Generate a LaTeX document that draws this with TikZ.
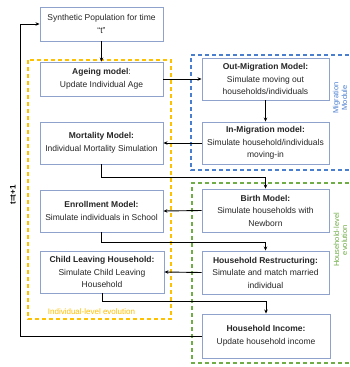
\documentclass[tikz,border=0pt]{standalone}
\usepackage{fontspec}
\setmainfont{Liberation Sans}
\usetikzlibrary{arrows.meta}
\definecolor{boxline}{HTML}{8FA2CB}
\definecolor{ylw}{HTML}{FFC000}
\definecolor{blu}{HTML}{4A7FD0}
\definecolor{grn}{HTML}{70AD47}
\definecolor{txt}{HTML}{262626}
\tikzset{
  model/.style={draw=boxline, line width=0.9pt, fill=white, minimum width=124pt, inner sep=1pt,
    align=center, font=\fontsize{8.5}{12.5}\selectfont, text=txt},
  arr/.style={draw=black, line width=0.9pt, -{Stealth[length=4pt,width=3.5pt]}},
  region/.style={line width=1.1pt, dash pattern=on 4pt off 3pt},
  reglab/.style={rotate=90, font=\fontsize{7.5}{9}\selectfont, inner sep=0pt},
}
\begin{document}
\begin{tikzpicture}[x=1pt,y=-1pt]
\useasboundingbox (0,0) rectangle (349,367);
% dashed regions
\draw[region, draw=ylw] (28,60) rectangle (171,319);
\draw[region, draw=blu] (349,55) -- (191,55) -- (191,170) -- (349,170);
\draw[region, draw=grn] (349,183) -- (192,183) -- (192,363) -- (349,363);
% region labels
\node[text=ylw, font=\fontsize{8}{10}\selectfont] (indlab) at (91.5,312) {Individual-level evolution};
\node[text=blu, reglab] (miglab1) at (336.5,98) {Migration};
\node[text=blu, reglab] (miglab2) at (344.5,98) {Module};
\node[text=grn, reglab] (hhlab1) at (336.5,240) {Household-level};
\node[text=grn, reglab] (hhlab2) at (344.5,240) {evolution};
\node[rotate=90, font=\bfseries\fontsize{8}{10}\selectfont, inner sep=0pt] (tlab) at (13,195) {t=t+1};
% boxes
\node[model, minimum width=123pt, minimum height=34pt] (synth) at (101.5,24) {Synthetic Population for time\\``t''};
\node[model, minimum width=123pt, minimum height=34pt] (ageing) at (101.5,79) {\textbf{Ageing model}:\\Update Individual Age};
\node[model, minimum width=123pt, minimum height=42pt] (mort) at (101.5,143) {\textbf{Mortality Model:}\\Individual Mortality Simulation};
\node[model, minimum width=123pt, minimum height=42pt] (enroll) at (101.5,211) {\textbf{Enrollment Model:}\\Simulate individuals in School};
\node[model, minimum width=124pt, minimum height=42pt] (child) at (102,272) {\textbf{Child Leaving Household:}\\Simulate Child Leaving\\Household};
\node[model, minimum width=127pt, minimum height=42pt] (outm) at (265.5,79) {\textbf{Out-Migration Model:}\\Simulate moving out\\households/individuals};
\node[model, minimum width=127pt, minimum height=42pt] (inm) at (265.5,143) {\textbf{In-Migration model:}\\Simulate household/individuals\\moving-in};
\node[model, minimum width=127pt, minimum height=43pt] (birth) at (265.5,210.5) {\textbf{Birth Model:}\\Simulate households with\\Newborn};
\node[model, minimum width=127pt, minimum height=43pt] (restr) at (265.5,272.5) {\textbf{Household Restructuring:}\\Simulate and match married\\individual};
\node[model, minimum width=128pt, minimum height=44pt] (income) at (266,336) {\textbf{Household Income:}\\Update household income};
% connectors
\coordinate (loop) at (20,336);
\draw[arr] (synth.south) -- (ageing.north);
\draw[arr] (ageing.east) -- (outm.west);
\draw[arr] (outm.south) -- (inm.north);
\draw[arr] (inm.west) -- (mort.east);
\draw[arr] (mort.south) -- ++(0,13) -| (birth.north);
\draw[arr] (birth.west) -- (enroll.east);
\draw[arr] (enroll.south) -- ++(0,9.5) -| (restr.north);
\draw[arr] (restr.west) -- (child.east);
\draw[arr] (child.south) -- ++(0,8) -| (income.north);
\draw[arr] (income.west) -- (loop) |- (synth.west);
\end{tikzpicture}
\end{document}
